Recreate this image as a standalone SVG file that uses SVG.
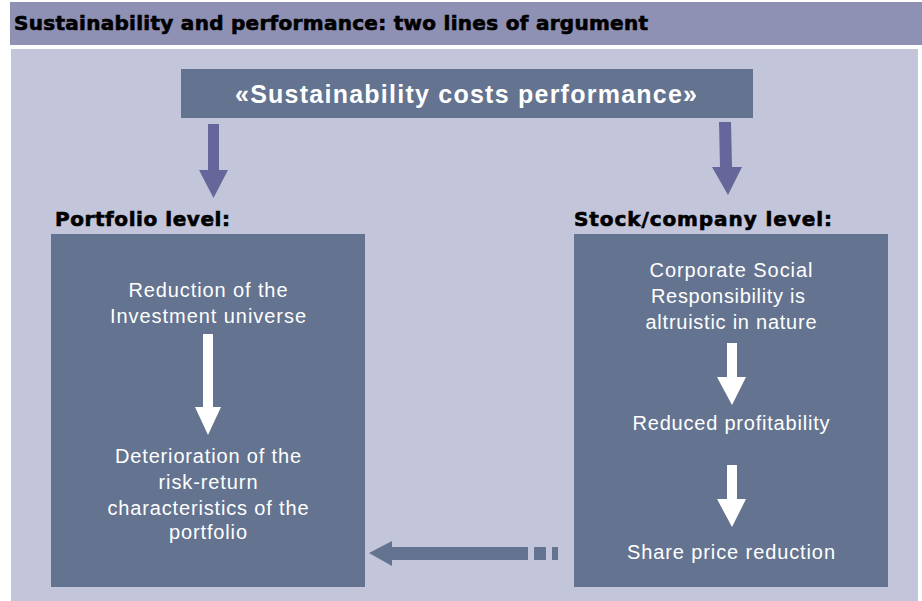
<svg xmlns="http://www.w3.org/2000/svg" width="922" height="601" viewBox="0 0 922 601">
  <style>
    .heading { font-family: "DejaVu Sans", "Liberation Sans", sans-serif; font-weight: bold; fill: #000; stroke: #000; stroke-width: 0.65; }
    .claim { font-family: "Liberation Sans", Arial, sans-serif; font-weight: bold; font-size: 25px; fill: #fff; }
    .body { font-family: "Liberation Sans", Arial, sans-serif; font-size: 20px; fill: #fff; text-anchor: middle; }
    .box { fill: #64738f; }
    .down { fill: #67669a; }
    .step { fill: #fff; }
  </style>

  <!-- page background -->
  <rect x="0" y="0" width="922" height="601" fill="#fff"/>

  <!-- title bar -->
  <g id="title">
    <rect x="10" y="2" width="912" height="43" fill="#8f91b4"/>
    <text class="heading" x="14" y="29.5" font-size="20" textLength="634" lengthAdjust="spacing">Sustainability and performance: two lines of argument</text>
  </g>

  <!-- content panel -->
  <rect x="11" y="49" width="907" height="552" fill="#c3c5da"/>

  <!-- central claim -->
  <g id="claim">
    <rect class="box" x="181" y="69" width="572" height="49"/>
    <text class="claim" x="235" y="102.5" textLength="462" lengthAdjust="spacing">«Sustainability costs performance»</text>
  </g>

  <!-- portfolio-level argument -->
  <g id="portfolio">
    <text class="heading" x="55" y="226" font-size="20" textLength="175" lengthAdjust="spacing">Portfolio level:</text>
    <rect class="box" x="51" y="234" width="314" height="353"/>
    <text class="body" x="208" y="297" textLength="159" lengthAdjust="spacing">Reduction of the</text>
    <text class="body" x="208" y="323" textLength="196" lengthAdjust="spacing">Investment universe</text>
    <polygon class="step" points="203,334 213,334 213,407 221,407 208,435 195,407 203,407"/>
    <text class="body" x="208" y="463" textLength="186" lengthAdjust="spacing">Deterioration of the</text>
    <text class="body" x="208" y="489" textLength="99" lengthAdjust="spacing">risk-return</text>
    <text class="body" x="208" y="515" textLength="201" lengthAdjust="spacing">characteristics of the</text>
    <text class="body" x="208" y="539" textLength="78" lengthAdjust="spacing">portfolio</text>
  </g>

  <!-- stock/company-level argument -->
  <g id="company">
    <text class="heading" x="574" y="226" font-size="20" textLength="258" lengthAdjust="spacing">Stock/company level:</text>
    <rect class="box" x="574" y="234" width="314" height="353"/>
    <text class="body" x="731" y="277" textLength="163" lengthAdjust="spacing">Corporate Social</text>
    <text class="body" x="728" y="303" textLength="154" lengthAdjust="spacing">Responsibility is</text>
    <text class="body" x="731" y="329" textLength="171" lengthAdjust="spacing">altruistic in nature</text>
    <polygon class="step" points="727,343 737,343 737,377 746,377 732,405 717,377 727,377"/>
    <text class="body" x="731" y="430" textLength="197" lengthAdjust="spacing">Reduced profitability</text>
    <polygon class="step" points="727,465 737,465 737,499 746,499 732,527 717,499 727,499"/>
    <text class="body" x="731" y="559" textLength="208" lengthAdjust="spacing">Share price reduction</text>
  </g>

  <!-- connectors -->
  <g id="connectors">
    <!-- claim to portfolio level -->
    <polygon class="down" points="208,124 219,124 219,170 228,170 213.5,198 199,170 208,170"/>
    <!-- claim to company level (slightly tilted) -->
    <polygon class="down" points="719,122 731,122 732,167 742,167 728,195 712,167 720,167"/>
    <!-- company level feeds back into portfolio level -->
    <g class="box">
      <polygon points="369,553 392,541 392,547 528,547 528,560 392,560 392,566"/>
      <rect x="534" y="547" width="12" height="13"/>
      <rect x="552" y="547" width="6" height="13"/>
    </g>
  </g>
</svg>
